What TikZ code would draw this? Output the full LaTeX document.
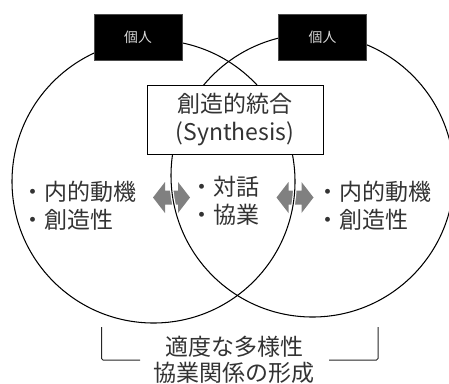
\documentclass[tikz,border=0pt]{standalone}
\usepackage{fontspec}
\setmainfont{Noto Sans CJK JP}
\begin{document}
\begin{tikzpicture}[x=1bp,y=-1bp,
  ring/.style={circle, draw=black, line width=1.05bp, minimum size=283bp, inner sep=0pt},
  person/.style={fill=black, draw=black!70, line width=0.5bp, minimum width=88bp, minimum height=46bp, inner sep=0pt, text=black!15, font=\fontsize{13.8bp}{16bp}\selectfont},
  synbox/.style={fill=white, draw=black, line width=1bp, minimum width=176bp, minimum height=69bp, inner sep=0pt, align=center, font=\fontsize{23bp}{28bp}\selectfont, text=black!80},
  bigtext/.style={inner sep=0pt, align=left, font=\fontsize{23bp}{28bp}\selectfont, text=black!80},
  bracket/.style={draw=black!85, line width=1bp, rounded corners=1.5bp},
  dblarrow/.style={fill=black!50, draw=none}
]
\useasboundingbox (0,0) rectangle (449,383);

% double arrows
\coordinate (a1) at (171.5,197.5);
\coordinate (a2) at (295,197.5);
\fill[dblarrow] (a1) ++(-18.5,0) -- ++(12,-15.5) -- ++(0,8.5) -- ++(13,0) -- ++(0,-8.5) -- ++(12,15.5) -- ++(-12,15.5) -- ++(0,-8.5) -- ++(-13,0) -- ++(0,8.5) -- cycle;
\fill[dblarrow] (a2) ++(-18.5,0) -- ++(12,-15.5) -- ++(0,8.5) -- ++(13,0) -- ++(0,-8.5) -- ++(12,15.5) -- ++(-12,15.5) -- ++(0,-8.5) -- ++(-13,0) -- ++(0,8.5) -- cycle;

% white halo of circles inside arrows
\begin{scope}
\clip (a1) ++(-18.5,-16) rectangle ++(37,32) (a2) ++(-18.5,-16) rectangle ++(37,32);
\draw[white, line width=3.5bp] (153.5,181.5) circle[radius=141.5];
\draw[white, line width=3.5bp] (312.5,175.5) circle[radius=141.5];
\end{scope}

% circles
\node[ring] (c1) at (153.5,181.5) {};
\node[ring] (c2) at (312.5,175.5) {};

% person boxes
\node[person] (p1) at (138,37) {個人};
\node[person] (p2) at (322.5,37) {個人};

% synthesis box
\node[synbox] (syn) at (235,119.5) {創造的統合\\(Synthesis)};

% texts
\node[bigtext, anchor=west] (tl) at (21,206) {・内的動機\\・創造性};
\node[bigtext, anchor=west] (tc) at (190.5,200.5) {・対話\\・協業};
\node[bigtext, anchor=west] (tr) at (316,206) {・内的動機\\・創造性};

% bottom text
\node[bigtext, align=center, font=\fontsize{23bp}{26bp}\selectfont] (bt) at (234,360) {適度な多様性\\協業関係の形成};

% brackets
\coordinate (bl1) at (101.5,327);
\coordinate (bl2) at (140,360);
\coordinate (br1) at (378,327);
\coordinate (br2) at (329,360);
\draw[bracket] (bl1) |- (bl2);
\draw[bracket] (br1) |- (br2);
\end{tikzpicture}
\end{document}
